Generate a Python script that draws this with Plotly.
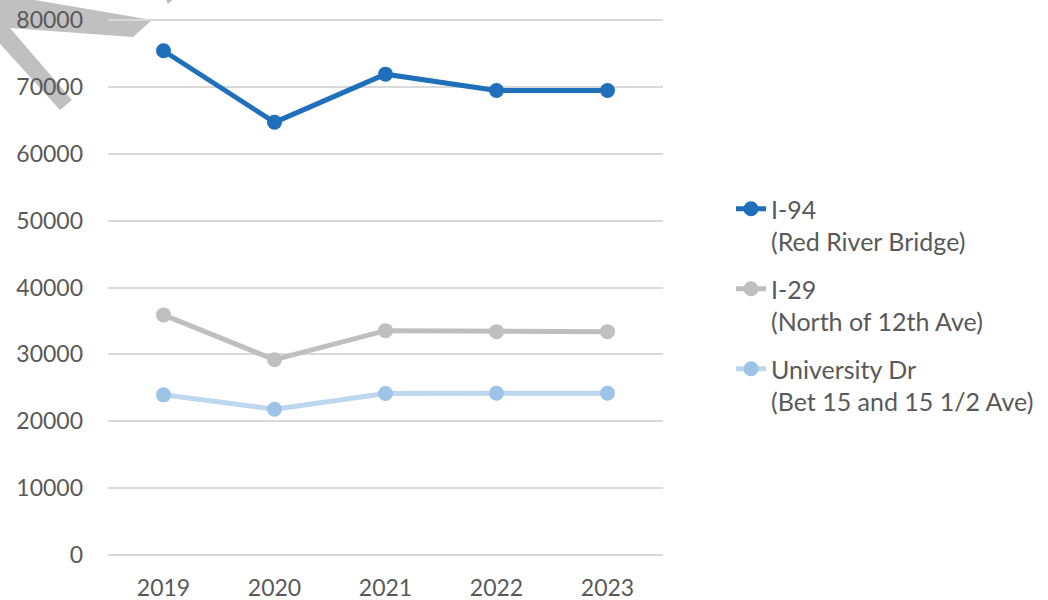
import plotly.graph_objects as go

years = ["2019", "2020", "2021", "2022", "2023"]
i94 = [75400, 64700, 71900, 69450, 69450]
i29 = [35900, 29200, 33550, 33400, 33400]
univ = [23950, 21800, 24150, 24200, 24200]

names = ["I-94<br>(Red River Bridge)", "I-29<br>(North of 12th Ave)", "University Dr<br>(Bet 15 and 15 1/2 Ave)"]
line_colors = ["#1F6FBA", "#BFBFBF", "#BDD7EE"]
marker_colors = ["#1F6FBA", "#BFBFBF", "#9DC3E6"]
y_ticks = [0, 10000, 20000, 30000, 40000, 50000, 60000, 70000, 80000]

FONT = "Lato"
W, H = 1048, 600
SX0, SX1 = 108, 663          # plot area in page pixels
SY0, SY1 = 18, 557
L, T = SX0, SY0
PW, PH = SX1 - SX0, SY1 - SY0
R, B = W - L - PW, H - T - PH

fig = go.Figure()
for name, vals, lc, mc in zip(names, [i94, i29, univ], line_colors, marker_colors):
    fig.add_trace(go.Scatter(
        x=years, y=vals, name=name, mode="lines+markers",
        line=dict(color=lc, width=5),
        marker=dict(color=mc, size=15),
        legendgroup=name,
    ))

# decorative grey chevron at top-left (pixel outline converted to paper coords)
def to_paper(px, py):
    return (px - SX0) / PW, (SY1 - py) / PH
def mk_path(pts):
    return "M " + " L ".join(f"{to_paper(px, py)[0]:.4f},{to_paper(px, py)[1]:.4f}" for px, py in pts) + " Z"
chev = [(-53, -15), (152, 20), (133, 37), (10, 28), (72, 100), (60, 110)]
tri = [(165, -2), (175, -2), (168, 4)]

fig.update_layout(
    width=W, height=H,
    margin=dict(l=L, r=R, t=T, b=B, autoexpand=False),
    paper_bgcolor="white",
    plot_bgcolor="rgba(0,0,0,0)",
    font=dict(family=FONT, size=23, color="#595959"),
    showlegend=True,
    legend=dict(
        x=(731 - SX0) / PW, xanchor="left",
        y=(SY1 - 186) / PH, yanchor="top",
        valign="top",
        font=dict(family=FONT, size=25, color="#595959"),
        tracegroupgap=12,
        bgcolor="rgba(0,0,0,0)",
    ),
    shapes=[
        dict(type="path", path=mk_path(chev), xref="paper", yref="paper",
             fillcolor="#C0C0C0", line=dict(width=0), layer="below"),
        dict(type="path", path=mk_path(tri), xref="paper", yref="paper",
             fillcolor="#C0C0C0", line=dict(width=0), layer="below"),
    ],
)
fig.update_xaxes(
    type="category", range=[-0.5, 4.5], automargin=False,
    showgrid=False, zeroline=False, showline=False,
    ticks="", ticklabelstandoff=15, ticklabeloverflow="allow",
    tickfont=dict(family=FONT, size=23, color="#595959"),
)
fig.update_yaxes(
    range=[-300, 80300], automargin=False,
    tickvals=y_ticks, ticktext=[str(v) for v in y_ticks],
    showgrid=True, gridcolor="#D9D9D9", gridwidth=1.5,
    zeroline=False, showline=False, ticks="", ticklabelstandoff=24,
    ticklabeloverflow="allow",
    tickfont=dict(family=FONT, size=23, color="#595959"),
)
fig.write_html("out.html", config={"displayModeBar": False},
               post_script="document.body.style.margin='0px';")
